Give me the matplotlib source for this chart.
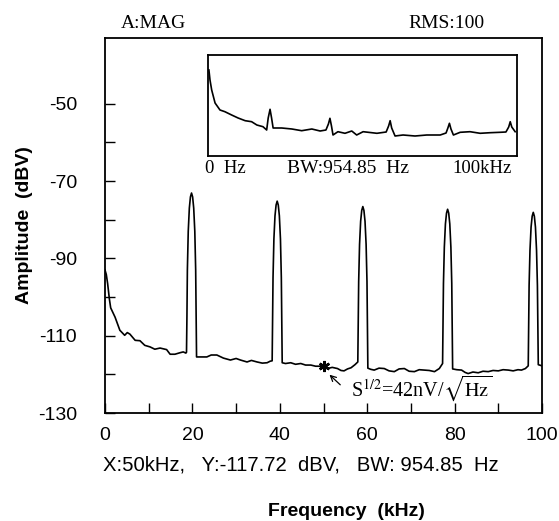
import matplotlib
matplotlib.use('Agg')
import matplotlib.pyplot as plt
from matplotlib.ticker import MultipleLocator

plt.rcParams['font.family'] = 'Liberation Sans'
plt.rcParams['mathtext.fontset'] = 'stix'
plt.rcParams['axes.unicode_minus'] = False

#
# Main spectrum (kHz, dBV)
#
freq = [0.0, 0.3, 0.6, 1.0, 1.3, 2.3, 3.4, 4.5, 5.1, 5.7, 6.9, 8.0, 9.1, 10.3, 11.4,
        12.6, 14.1, 14.9, 16.0, 17.2, 17.9, 18.5,
        18.65, 18.75, 18.85, 19.05, 19.3, 19.55, 19.8, 20.05, 20.3, 20.55, 20.75, 20.85, 20.95,
        21.6, 23.3, 24.3, 25.6, 27.1, 28.7, 30.0, 31.0, 32.5, 33.5, 34.8, 36.0, 37.1, 37.8,
        38.25, 38.35, 38.45, 38.65, 38.9, 39.15, 39.4, 39.65, 39.9, 40.15, 40.35, 40.45, 40.55,
        41.3, 42.5, 43.6, 44.8, 45.9, 47.1, 48.2, 49.4, 50.1, 50.9, 52.0, 53.2, 54.0, 54.7,
        55.5, 56.3, 57.2,
        57.85, 57.95, 58.05, 58.25, 58.5, 58.75, 59.0, 59.25, 59.5, 59.75, 59.95, 60.05, 60.15,
        60.8, 61.6, 62.7, 63.9, 65.0, 66.2, 67.3, 68.5, 69.6, 70.8, 71.9, 73.1, 74.2, 75.4, 76.5,
        77.25, 77.35, 77.45, 77.65, 77.9, 78.15, 78.4, 78.65, 78.9, 79.15, 79.35, 79.45, 79.55,
        80.5, 81.6, 82.4, 83.1, 84.2, 85.4, 86.5, 87.7, 88.8, 90.0, 91.1, 92.3, 93.4, 94.5,
        95.3, 96.2,
        96.85, 96.95, 97.05, 97.25, 97.5, 97.75, 98.0, 98.25, 98.5, 98.75, 98.95, 99.05, 99.15,
        100.0]
amp = [-93.0, -94.2, -96.5, -100.5, -102.8, -105.2, -108.6, -109.9, -109.2, -109.6, -111.2,
       -111.3, -112.5, -112.9, -113.5, -113.2, -113.6, -114.8, -114.8, -114.4, -114.2, -114.5,
       -114.3, -105.0, -93.0, -83.0, -77.0, -74.1, -73.1, -74.1, -77.0, -83.0, -93.0, -105.0, -115.5,
       -115.5, -115.5, -115.0, -115.0, -115.8, -116.3, -115.9, -116.3, -116.8, -116.4, -116.8,
       -117.1, -117.0, -116.6,
       -116.5, -106.0, -95.0, -85.0, -79.0, -76.2, -75.2, -76.2, -79.0, -85.0, -95.0, -106.0, -117.0,
       -117.2, -117.0, -117.4, -117.2, -117.6, -117.6, -117.9, -117.9, -118.0, -118.5, -118.2,
       -118.5, -119.0, -119.1, -118.6, -118.3, -117.5,
       -116.8, -106.5, -96.0, -86.4, -80.4, -77.6, -76.6, -77.6, -80.4, -86.4, -96.0, -106.5, -118.4,
       -118.7, -118.9, -118.4, -118.5, -119.1, -119.3, -118.6, -118.5, -119.2, -119.3, -118.8,
       -118.9, -119.0, -119.3, -118.5,
       -117.2, -107.0, -96.5, -87.1, -81.1, -78.3, -77.3, -78.3, -81.1, -87.1, -96.5, -107.0, -118.6,
       -118.8, -118.9, -119.5, -119.8, -119.4, -119.6, -119.2, -119.3, -119.0, -119.1, -118.8,
       -118.9, -119.1, -118.8, -118.9, -118.5,
       -117.8, -107.5, -97.0, -87.9, -81.9, -79.1, -78.1, -79.1, -81.9, -87.9, -97.0, -107.5, -117.5,
       -117.8]

marker_x = 50.0
marker_y = -117.72

#
# Inset trace (kHz, relative height in the small window)
#
inset_freq = [0.3, 0.65, 1.2, 2.3, 3.9, 5.5, 7.7, 9.8, 12.1, 14.2, 15.9, 17.9, 19.1, 19.6, 20.2,
              20.7, 21.2, 24.0, 27.3, 30.5, 33.8, 36.5, 38.4, 39.2, 39.7, 40.2, 40.7, 42.3, 44.6,
              46.8, 48.4, 50.5, 55.0, 58.0, 58.8, 59.3, 59.8, 60.9, 63.5, 67.4, 71.2, 75.6, 77.5,
              78.1, 78.6, 79.1, 79.9, 82.1, 85.3, 88.6, 91.9, 95.1, 97.0, 97.9, 98.4, 98.9, 100.0]
inset_level = [86, 76, 66, 53, 46, 44.3, 41, 38, 35.3, 34.3, 31, 29.3, 26, 38, 46.7,
               38, 28, 28, 27, 25.3, 27, 25, 26, 32, 37.7, 30, 21, 24.3, 22.7,
               25, 21, 24.3, 22.7, 24, 30, 35.3, 28, 20, 21, 20, 21, 21, 23,
               28, 32.7, 27, 21, 23.7, 24.3, 22.7, 23.3, 23.7, 24, 29, 34.3, 29, 24.3]

fig = plt.figure(figsize=(5.59, 5.21), dpi=100)
ax = fig.add_axes([105 / 559, 1 - 413 / 521, 437 / 559, 375 / 521])
ax.plot(freq, amp, color='black', lw=1.2, zorder=3)
ax.plot([marker_x], [marker_y], marker=(6, 2, 0), ms=8, mew=1.8, color='black', zorder=4)

ax.set_xlim(0, 100)
ax.set_ylim(-130, -33)
ax.xaxis.set_major_locator(MultipleLocator(20))
ax.xaxis.set_minor_locator(MultipleLocator(10))
ax.set_yticks([-130, -110, -90, -70, -50])
ax.set_yticks([-120, -100, -80, -60], minor=True)
ax.tick_params(which='both', direction='in', length=7, width=1.0, labelsize=14)
ax.tick_params(axis='x', pad=10)
ax.tick_params(axis='y', pad=20)
ax.tick_params(top=False, right=False)
for s in ax.spines.values():
    s.set_linewidth(1.3)

ax.set_ylabel('Amplitude  (dBV)', fontsize=14, fontweight='bold')
ax.yaxis.set_label_coords(-72 / 437, 0.5)

ax.annotate('', xy=(50.9, -119.6), xytext=(54.3, -123.2),
            arrowprops=dict(arrowstyle='->', lw=0.9, color='black'))
ax.text(56.3, -123.6, r'S$^{1/2}$=42nV/$\sqrt{\mathrm{Hz}}$', fontsize=14.5,
        family='Liberation Serif', ha='left', va='center')

# analyzer header / readout text
fig.text(121 / 559, 1 - 24 / 521, 'A:MAG', family='Liberation Serif', fontsize=14, va='center')
fig.text(408 / 559, 1 - 24 / 521, 'RMS:100', family='Liberation Serif', fontsize=14, va='center')
fig.text(103 / 559, 1 - 465 / 521, 'X:50kHz,   Y:-117.72  dBV,   BW: 954.85  Hz', fontsize=14.6,
         va='center')
fig.text(346 / 559, 1 - 511 / 521, 'Frequency  (kHz)', fontsize=14, fontweight='bold',
         ha='center', va='center')

# inset window
axi = fig.add_axes([208 / 559, 1 - 156 / 521, 309 / 559, 101 / 521])
axi.plot(inset_freq, inset_level, color='black', lw=1.2)
axi.set_xlim(0, 100.6)
axi.set_ylim(0, 101)
axi.set_xticks([])
axi.set_yticks([])
for s in axi.spines.values():
    s.set_linewidth(1.3)
fig.text(205 / 559, 1 - 168 / 521, '0  Hz', family='Liberation Serif', fontsize=13.5, va='center')
fig.text(287 / 559, 1 - 168 / 521, 'BW:954.85  Hz', family='Liberation Serif', fontsize=14,
         va='center')
fig.text(512 / 559, 1 - 168 / 521, '100kHz', family='Liberation Serif', fontsize=13.5,
         va='center', ha='right')

fig.savefig('out.png', dpi=100)
